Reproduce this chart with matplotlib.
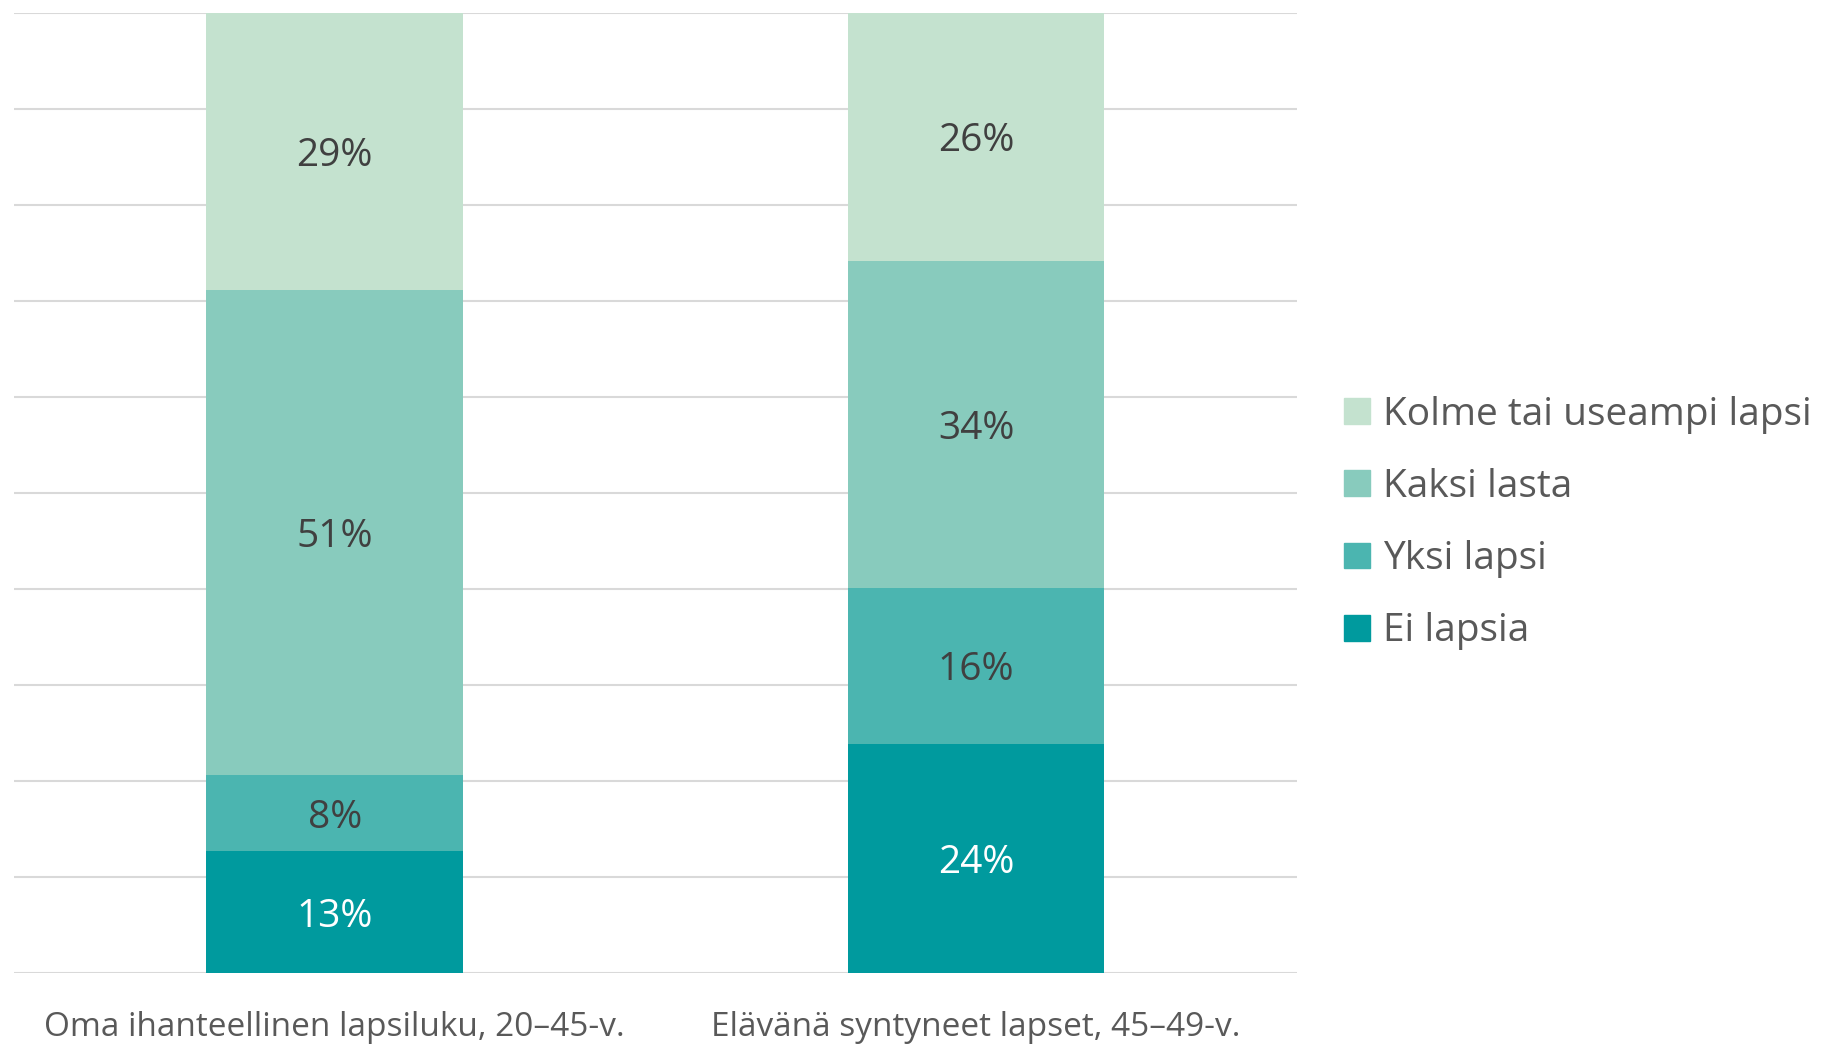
import numpy as np
import matplotlib.pyplot as plt
from matplotlib.patches import Patch

plt.rcParams['font.family'] = ['Open Sans', 'DejaVu Sans']

# data (segment heights, bottom to top)
groups = ['Oma ihanteellinen lapsiluku, 20–45-v.', 'Elävänä syntyneet lapset, 45–49-v.']
series = ['Ei lapsia', 'Yksi lapsi', 'Kaksi lasta', 'Kolme tai useampi lapsi']
ei_lapsia = [12.7, 23.9]
yksi_lapsi = [7.9, 16.2]
kaksi_lasta = [50.6, 34.1]
kolme_tai_useampi = [28.8, 25.8]
labels = [[13, 24], [8, 16], [51, 34], [29, 26]]

colors = ['#009a9e', '#4bb5b0', '#88cbbd', '#c4e2cf']
text_colors = ['white', '#404040', '#404040', '#404040']

fig = plt.figure(figsize=(18.34, 10.44), dpi=100)
ax = fig.add_axes([0.0076, 0.068, 0.6995, 0.9195])

x = np.arange(len(groups))
bottom = np.zeros(len(groups))
for vals, lab, col, tc in zip([ei_lapsia, yksi_lapsi, kaksi_lasta, kolme_tai_useampi],
                              labels, colors, text_colors):
    vals = np.array(vals)
    ax.bar(x, vals, width=0.4, bottom=bottom, color=col, zorder=3)
    for i in range(len(groups)):
        ax.text(x[i], bottom[i] + vals[i] / 2, f'{lab[i]}%', ha='center', va='center_baseline',
                fontsize=28, color=tc, weight='medium', zorder=4)
    bottom += vals

ax.set_xlim(-0.5, 1.5)
ax.set_ylim(0, 100)
ax.set_yticks(np.arange(0, 101, 10))
ax.set_yticklabels([])
ax.tick_params(axis='both', length=0)
ax.yaxis.grid(True, color='#d9d9d9', linewidth=1.5, zorder=0)
for s in ax.spines.values():
    s.set_visible(False)
ax.set_xticks(x)
ax.set_xticklabels(groups, fontsize=24, color='#595959')
ax.tick_params(axis='x', pad=27)

handles = [Patch(color=c) for c in colors][::-1]
fig.legend(handles, series[::-1], loc='center left', bbox_to_anchor=(0.714, 0.499),
           frameon=False, labelcolor='#595959',
           handlelength=0.65, handleheight=0.65, handletextpad=0.35, labelspacing=0.88,
           prop={'size': 28, 'weight': 'medium'})

fig.savefig('out.png', dpi=100)
